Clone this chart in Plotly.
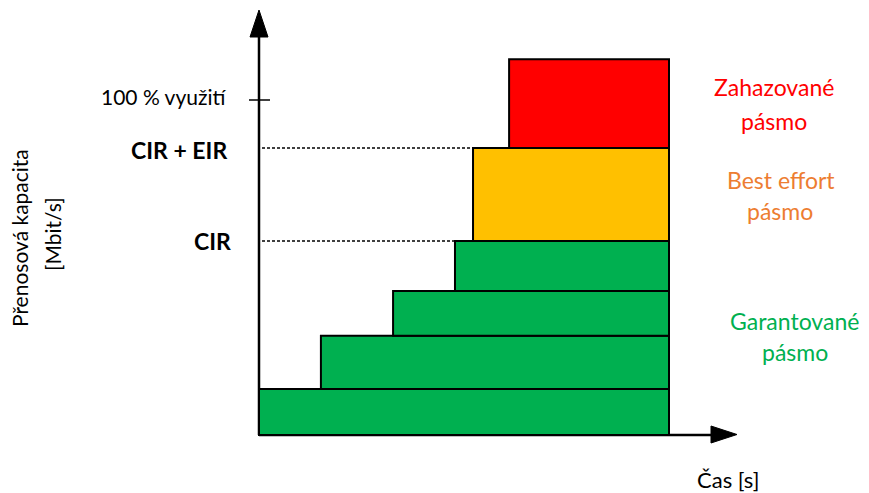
import plotly.graph_objects as go

# ---- data (abstract units: time, capacity) ----
time_end = 10.0
green_starts = [0.0, 1.51, 3.27, 4.78]
green_levels = [0.0, 13.7, 29.6, 43.0, 57.9]
cir = 57.9
cir_eir = 85.7
full_util = 100.0
best_effort_start = 5.22
drop_start = 6.10
drop_top = 112.2

tick_labels = ["CIR", "CIR + EIR", "100 % využití"]
band_labels = [("Zahazované", "pásmo"), ("Best effort", "pásmo"), ("Garantované", "pásmo")]

GREEN = "#00B050"
ORANGE = "#FFC000"
RED = "#FF0000"
PAGE_W, PAGE_H = 869, 493
OFF = 8  # page body margin
W, H = PAGE_W - OFF, PAGE_H - OFF
X0, XS = 259, 41.0
Y0, YS = 435, 3.35

def px(x):
    return (x - X0) / XS

def py(y):
    return (Y0 - y) / YS

fig = go.Figure()
fig.add_trace(go.Scatter(x=[0], y=[0], mode="markers", marker=dict(opacity=0), hoverinfo="skip", showlegend=False))

shapes = []
# axes
shapes.append(dict(type="line", x0=0, y0=0, x1=0, y1=py(34), line=dict(color="black", width=2.5)))
shapes.append(dict(type="line", x0=0, y0=0, x1=px(714), y1=0, line=dict(color="black", width=2.5)))
shapes.append(dict(type="path", path=f"M {px(250)},{py(37)} L {px(259)},{py(10)} L {px(268)},{py(37)} Z",
                   fillcolor="black", line=dict(color="black", width=1)))
shapes.append(dict(type="path", path=f"M {px(711)},{py(426)} L {px(737)},{py(434.5)} L {px(711)},{py(443)} Z",
                   fillcolor="black", line=dict(color="black", width=1)))
# tick at 100 %
shapes.append(dict(type="line", x0=px(249), y0=full_util, x1=px(270), y1=full_util, line=dict(color="black", width=1.5)))

# bands
for i, xs in enumerate(green_starts):
    shapes.append(dict(type="rect", x0=xs, x1=time_end, y0=green_levels[i], y1=green_levels[i + 1],
                       fillcolor=GREEN, line=dict(color="black", width=2)))
shapes.append(dict(type="rect", x0=best_effort_start, x1=time_end, y0=cir, y1=cir_eir,
                   fillcolor=ORANGE, line=dict(color="black", width=2)))
shapes.append(dict(type="rect", x0=drop_start, x1=time_end, y0=cir_eir, y1=drop_top,
                   fillcolor=RED, line=dict(color="black", width=2)))
# dashed guides
shapes.append(dict(type="line", x0=px(262), x1=best_effort_start, y0=cir_eir, y1=cir_eir,
                   line=dict(color="black", width=1.5, dash="3px,2px")))
shapes.append(dict(type="line", x0=px(262), x1=green_starts[-1], y0=cir, y1=cir,
                   line=dict(color="black", width=1.5, dash="3px,2px")))

FONT = "Lato"
ann = []
ann.append(dict(x=px(233), y=cir, text=f"<b>{tick_labels[0]}</b>", xanchor="right", yanchor="middle",
                font=dict(size=23, color="black", family=FONT)))
ann.append(dict(x=px(229), y=cir_eir - 0.5, text=f"<b>{tick_labels[1]}</b>", xanchor="right", yanchor="middle",
                font=dict(size=23, color="black", family=FONT)))
ann.append(dict(x=px(229), y=full_util + 1, text=tick_labels[2], xanchor="right", yanchor="middle",
                font=dict(size=21, color="black", family=FONT)))

band_pos = [((774, 87), (774, 121), RED), ((781, 180), (780, 211), "#ED7D31"), ((794, 321), (795, 352), GREEN)]
for (l1, l2), (p1, p2, col) in zip(band_labels, band_pos):
    ann.append(dict(x=px(p1[0]), y=py(p1[1]), text=l1, xanchor="center", yanchor="middle",
                    font=dict(size=23, color=col, family=FONT)))
    ann.append(dict(x=px(p2[0]), y=py(p2[1]), text=l2, xanchor="center", yanchor="middle",
                    font=dict(size=23, color=col, family=FONT)))

ann.append(dict(x=px(19), y=py(238), text="Přenosová kapacita", textangle=-90, xanchor="center", yanchor="middle",
                font=dict(size=21, color="black", family=FONT)))
ann.append(dict(x=px(52), y=py(234), text="[Mbit/s]", textangle=-90, xanchor="center", yanchor="middle",
                font=dict(size=21, color="black", family=FONT)))
ann.append(dict(x=px(728), y=py(479), text="Čas [s]", xanchor="center", yanchor="middle",
                font=dict(size=22, color="black", family=FONT)))
for a in ann:
    a.update(showarrow=False, xref="x", yref="y")

fig.update_layout(
    width=W, height=H, margin=dict(l=0, r=0, t=0, b=0),
    paper_bgcolor="white", plot_bgcolor="white",
    xaxis=dict(range=[px(OFF), px(PAGE_W)], visible=False, fixedrange=True),
    yaxis=dict(range=[py(PAGE_H), py(OFF)], visible=False, fixedrange=True),
    shapes=shapes, annotations=ann, showlegend=False,
)
fig.write_html("out.html")
